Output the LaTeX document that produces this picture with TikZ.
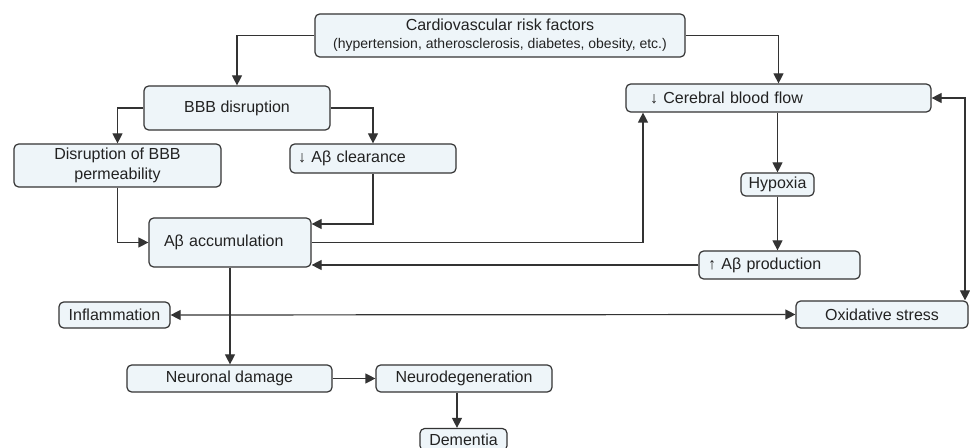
\documentclass[tikz,border=0pt]{standalone}
\usepackage{fontspec}
\setmainfont{Liberation Sans}
\usetikzlibrary{arrows.meta}
\definecolor{boxfill}{HTML}{EEF5F9}
\definecolor{boxline}{HTML}{333333}
\definecolor{txt}{HTML}{222222}
\begin{document}
\begin{tikzpicture}[x=0.75pt,y=-0.75pt,
  box/.style={draw=boxline, fill=boxfill, line width=0.9pt, rounded corners=3.5pt,
    inner sep=0pt, text=txt, font=\fontsize{12}{15}\selectfont},
  lbox/.style={box, align=left},
  conn/.style={draw=boxline, line width=0.9pt, -{Triangle[length=7.5pt,width=7.5pt]}},
  dconn/.style={draw=boxline, line width=0.9pt, {Triangle[length=7.5pt,width=7.5pt]}-{Triangle[length=7.5pt,width=7.5pt]}}
]
\useasboundingbox (0,0) rectangle (970,448);
\clip (0,0) rectangle (970,448);
\fill[white] (0,0) rectangle (970,448);

\node[box, minimum width=277.5pt, minimum height=32.25pt, align=center] (cv) at (500,35.5)
  {Cardiovascular risk factors\\[-1.5pt]{\fontsize{10.5}{12}\selectfont (hypertension, atherosclerosis, diabetes, obesity, etc.)}};
\node[box, minimum width=139.5pt, minimum height=33pt] (bbb) at (237,108) {BBB disruption};
\node[box, minimum width=155.25pt, minimum height=32.25pt, align=center] (perm) at (117.5,165.5)
  {Disruption of BBB\\permeability};
\node[lbox, minimum height=21.75pt, inner xsep=6pt, text width=112.5pt] (clear) at (373,158.5) {↓ Aβ clearance};
\node[lbox, minimum height=36.75pt, inner xsep=11.25pt, text width=99pt] (acc) at (230,242.5) {Aβ accumulation};
\node[lbox, minimum height=21pt, inner xsep=18pt, text width=192.75pt] (cbf) at (778.5,98) {↓ Cerebral blood flow};
\node[box, minimum width=54.75pt, minimum height=17.25pt] (hyp) at (777.5,184.5) {Hypoxia};
\node[lbox, minimum height=21pt, inner xsep=6.75pt, text width=107.25pt] (prod) at (779.5,265) {↑ Aβ production};
\node[box, minimum width=83.25pt, minimum height=19.5pt] (infl) at (114.5,315) {Inflammation};
\node[box, minimum width=129pt, minimum height=20.25pt] (ox) at (882,314.5) {Oxidative stress};
\node[box, minimum width=153.75pt, minimum height=20.25pt] (neur) at (229.5,378.5) {Neuronal damage};
\node[box, minimum width=132pt, minimum height=20.25pt] (ndeg) at (464,378.5) {Neurodegeneration};
\node[box, minimum width=65.25pt, minimum height=16.5pt] (dem) at (463.5,439.5) {Dementia};

\coordinate (a1) at (0,224);
\coordinate (a2) at (643,0);
\coordinate (a3) at (965,0);
\coordinate (a4) at (457,0);

\draw[conn] (cv.west) -| (bbb.north);
\draw[conn] (cv.east) -| (cbf.north);
\draw[conn] (bbb.west) -| (perm.north);
\draw[conn] (bbb.east) -| (clear.north);
\draw[conn] (perm.south) |- (acc.west);
\draw[conn] (clear.south) |- (acc.east |- a1);
\draw[conn] (acc.east) -| (a2 |- cbf.south);
\draw[conn] (hyp.north |- cbf.south) -- (hyp.north);
\draw[conn] (hyp.south) -- (hyp.south |- prod.north);
\draw[conn] (prod.west) -- (acc.east |- prod.west);
\draw[dconn] (infl.east) -- (ox.west);
\draw[dconn] (cbf.east) -| (a3 |- ox.north);
\draw[conn] (acc.south) -- (acc.south |- neur.north);
\draw[conn] (neur.east) -- (ndeg.west);
\draw[conn] (a4 |- ndeg.south) -- (a4 |- dem.north);
\end{tikzpicture}
\end{document}
